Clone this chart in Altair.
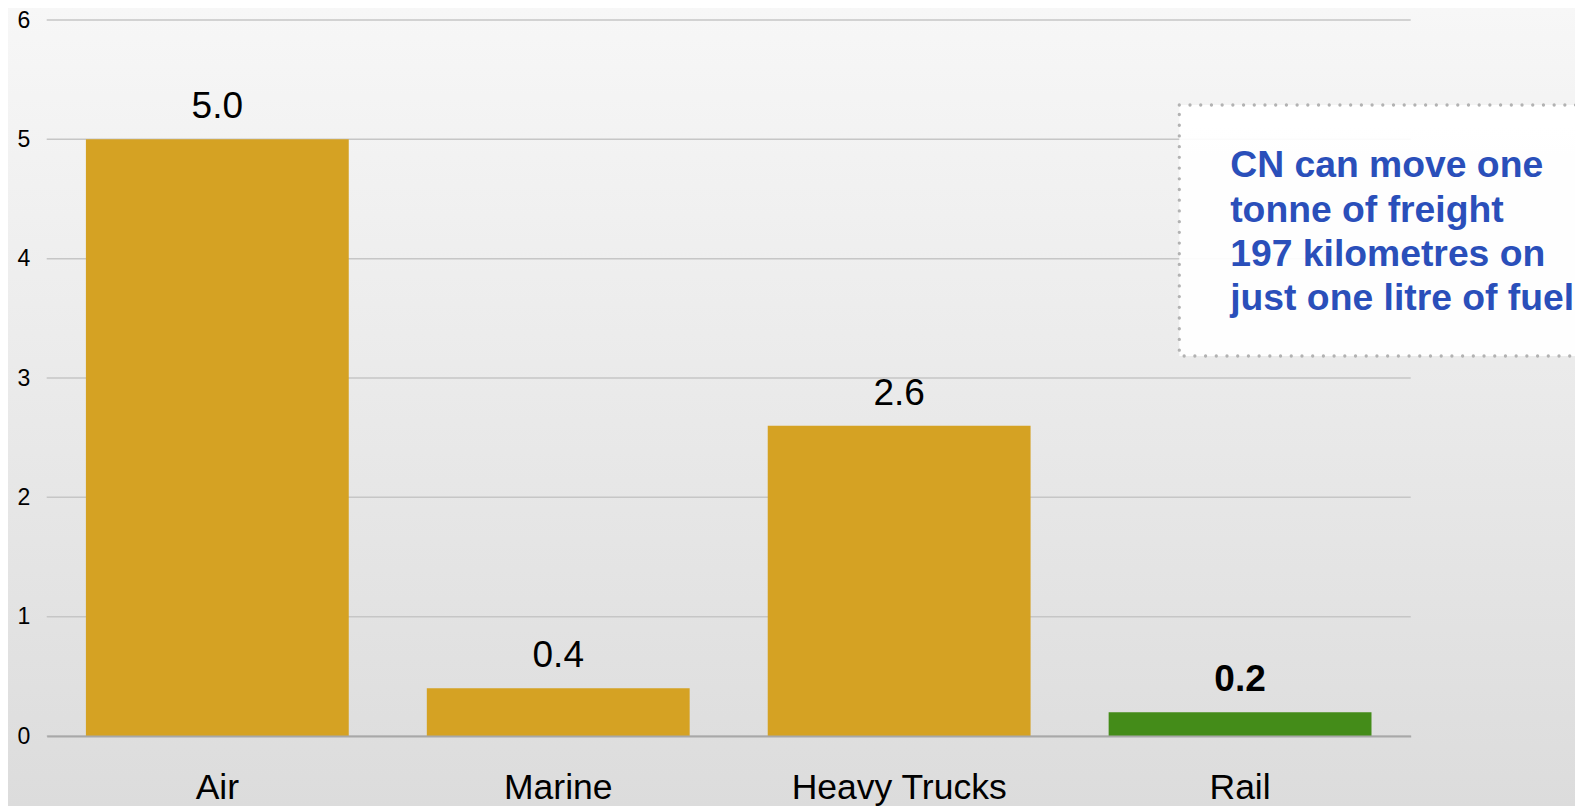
import altair as alt
import pandas as pd

# ---- data ----
modes = ["Air", "Marine", "Heavy Trucks", "Rail"]
values = [5.0, 0.4, 2.6, 0.2]
y_ticks = [0, 1, 2, 3, 4, 5, 6]
note_lines = ["CN can move one", "tonne of freight", "197 kilometres on", "just one litre of fuel"]

W, H = 1364, 716
PAD = {"left": 38.7, "top": 12, "right": 164.3, "bottom": 70}
FONT = "Liberation Sans"

df = pd.DataFrame({"mode": modes, "value": values})
ticks_df = pd.DataFrame({"tick": y_ticks})
one = pd.DataFrame({"k": [0]})

y_scale = alt.Scale(domain=[0, 6], nice=False, zero=True)
y_axis = alt.Axis(
    title=None, values=y_ticks, grid=False, domain=False, ticks=False, tickSize=0,
    labelPadding=17, labelFontSize=23, labelColor="#000000", labelFont=FONT, zindex=1,
)
x_def = alt.X(
    "mode:N", sort=modes,
    scale=alt.Scale(paddingInner=0.229, paddingOuter=0.115),
    axis=alt.Axis(
        title=None, labelAngle=0, labelFontSize=35.5, labelFont=FONT, labelColor="#000000",
        labelPadding=62, labelBaseline="alphabetic", ticks=False, tickSize=0, labelLimit=0,
        domainColor="#a8a8a8", domainWidth=2, grid=False, zindex=1,
    ),
)

background = alt.Chart(one).mark_rect(
    fill=alt.LinearGradient(
        gradient="linear",
        stops=[alt.GradientStop(color="#f7f7f7", offset=0),
               alt.GradientStop(color="#dcdcdc", offset=1)],
        x1=0, x2=0, y1=0, y2=1,
    ),
    strokeWidth=0,
).encode(
    x=alt.value(-PAD["left"]), x2=alt.value(W + PAD["right"]),
    y=alt.value(-PAD["top"]), y2=alt.value(H + PAD["bottom"]),
)

grid = alt.Chart(ticks_df).mark_rule(color="#c6c6c6", strokeWidth=1.5).encode(
    y=alt.Y("tick:Q", scale=y_scale, axis=y_axis),
    x=alt.value(0), x2=alt.value(W),
)

bars = alt.Chart(df).mark_bar().encode(
    x=x_def,
    y=alt.Y("value:Q", scale=y_scale, axis=y_axis),
    color=alt.condition(alt.datum.mode == "Rail", alt.value("#448c19"), alt.value("#d5a223")),
)

labels_normal = alt.Chart(df).transform_filter(alt.datum.mode != "Rail").mark_text(
    baseline="alphabetic", dy=-21, fontSize=37, font=FONT, color="#000000",
).encode(
    x=x_def,
    y=alt.Y("value:Q", scale=y_scale, axis=y_axis),
    text=alt.Text("value:Q", format=".1f"),
)

labels_bold = alt.Chart(df).transform_filter(alt.datum.mode == "Rail").mark_text(
    baseline="alphabetic", dy=-21, fontSize=37, font=FONT, color="#000000", fontWeight="bold",
).encode(
    x=x_def,
    y=alt.Y("value:Q", scale=y_scale, axis=y_axis),
    text=alt.Text("value:Q", format=".1f"),
)

note_box = alt.Chart(one).mark_rect(
    fill="#ffffff", fillOpacity=0.93, stroke="#b2b2b2", strokeWidth=3.3,
    strokeDash=[0.01, 10.7], strokeCap="round",
).encode(
    x=alt.value(1132.6), x2=alt.value(1620),
    y=alt.value(85), y2=alt.value(336),
)

note_text = alt.Chart(one).mark_text(
    text=note_lines, align="left", baseline="alphabetic", fontSize=37.3,
    fontWeight="bold", font=FONT, color="#2a4fba", lineHeight=44.3,
).encode(
    x=alt.value(1183.5), y=alt.value(157.3),
)

chart = alt.layer(
    background, grid, bars, labels_normal, labels_bold, note_box, note_text
).properties(
    width=W, height=H,
    autosize=alt.AutoSizeParams(type="none"),
    padding=PAD,
    background="#e8e8e8",
).configure_view(stroke=None)

chart.save("out.html", embed_options={"renderer": "svg", "actions": False})
